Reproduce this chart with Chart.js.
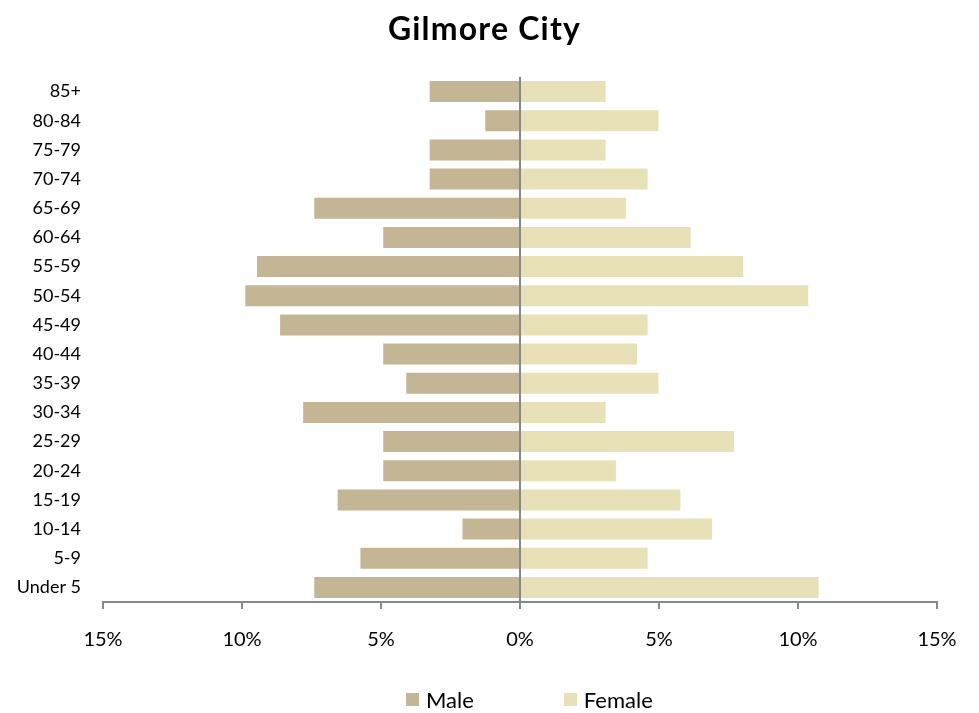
<!DOCTYPE html>
<html>
<head>
<meta charset="utf-8">
<title>Gilmore City</title>
<script src="https://cdn.jsdelivr.net/npm/chart.js@4.4.1/dist/chart.umd.min.js"></script>
<style>
    html, body { margin: 0; padding: 0; background: #fff; }
    #wrap { position: relative; width: 979px; height: 713px; font-family: Lato, sans-serif; color: #000; }
    #title {
        position: absolute; left: 0; width: 969px; top: 8px;
        text-align: center; font-size: 32px; font-weight: bold; letter-spacing: 1.2px;
    }
    #legend {
        position: absolute; left: 406px; top: 686px;
        display: flex; gap: 90px;
        font-size: 22px;
    }
    #legend .item { display: flex; align-items: center; }
    #legend .box { width: 13px; height: 13px; margin-right: 7px; }
</style>
</head>
<body>
<div id="wrap">
    <canvas id="pyramid" width="979" height="713"></canvas>
    <div id="title">Gilmore City</div>
    <div id="legend"></div>
</div>
<script>
// age groups, top of the pyramid first
const ageGroups = ['85+', '80-84', '75-79', '70-74', '65-69', '60-64', '55-59', '50-54', '45-49',
    '40-44', '35-39', '30-34', '25-29', '20-24', '15-19', '10-14', '5-9', 'Under 5'];
// share of population, percent
const maleShare = [3.25, 1.25, 3.25, 3.25, 7.4, 4.92, 9.46, 9.88, 8.63,
    4.92, 4.09, 7.8, 4.92, 4.92, 6.56, 2.07, 5.74, 7.4];
const femaleShare = [3.08, 4.98, 3.08, 4.59, 3.81, 6.14, 8.03, 10.37, 4.59,
    4.21, 4.98, 3.08, 7.7, 3.45, 5.77, 6.91, 4.59, 10.74];
const seriesNames = ['Male', 'Female'];
const seriesColors = ['#C4B694', '#E8E1B7'];
const axisTicks = [-15, -10, -5, 0, 5, 10, 15];

Chart.defaults.font.family = 'Lato, sans-serif';
Chart.defaults.color = '#000';

const ctx = document.getElementById('pyramid').getContext('2d');
const chart = new Chart(ctx, {
    type: 'bar',
    data: {
        labels: ageGroups,
        datasets: [
            { label: seriesNames[0], data: maleShare.map(v => -v), backgroundColor: seriesColors[0] },
            { label: seriesNames[1], data: femaleShare, backgroundColor: seriesColors[1] }
        ]
    },
    options: {
        indexAxis: 'y',
        responsive: false,
        animation: false,
        layout: { padding: { left: 10, right: 42, top: 77, bottom: 50 } },
        datasets: { bar: { categoryPercentage: 1, barPercentage: 0.72 } },
        scales: {
            x: {
                stacked: true,
                min: -15, max: 15,
                z: 1,
                afterBuildTicks: scale => { scale.ticks = axisTicks.map(v => ({ value: v })); },
                afterFit: scale => { scale.height = 61; },
                ticks: {
                    font: { size: 20 },
                    padding: 19,
                    callback: v => Math.abs(v) + '%'
                },
                grid: {
                    color: c => (c.tick && c.tick.value === 0) ? '#888888' : 'rgba(0,0,0,0)',
                    lineWidth: 2,
                    tickColor: '#888888',
                    tickWidth: 2,
                    tickLength: 7
                },
                border: { display: true, color: '#888888', width: 2 }
            },
            y: {
                stacked: true,
                afterFit: scale => { scale.width = 93; },
                ticks: { font: { size: 18 }, padding: 14 },
                grid: { display: false },
                border: { display: false }
            }
        },
        plugins: {
            legend: { display: false },
            tooltip: { enabled: false },
            title: { display: false }
        }
    }
});

// legend below the axis, built from the datasets
const legendEl = document.getElementById('legend');
legendEl.innerHTML = chart.data.datasets.map(ds => `
    <div class="item"><span class="box" style="background:${ds.backgroundColor}"></span><span>${ds.label}</span></div>
`).join('');
</script>
</body>
</html>
